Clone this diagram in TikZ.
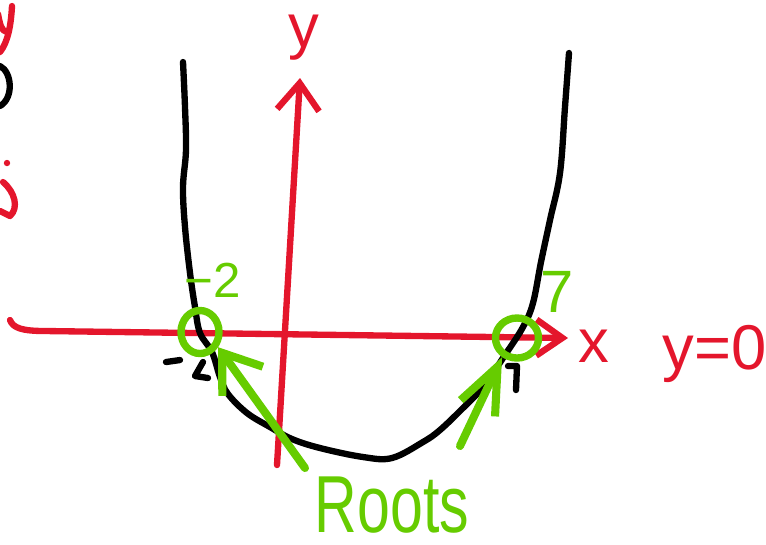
\documentclass[tikz,border=0pt]{standalone}
\usepackage{fontspec}
\setmainfont{Liberation Sans}
\usepackage{tikz}
\usetikzlibrary{arrows.meta,shapes.geometric}
\definecolor{axisred}{RGB}{228,22,44}
\definecolor{rootgreen}{RGB}{102,204,0}
\tikzset{
  curve/.style     = {line width=1.8pt, black, line cap=round, line join=round},
  axis/.style      = {line width=1.8pt, axisred, line cap=round, line join=round},
  axisarrow/.style = {axis, -{Straight Barb[length=2.6mm,width=3.6mm]}},
  rootring/.style  = {ellipse, draw=rootgreen, line width=2.1pt, inner sep=0pt},
  rootarrow/.style = {line width=2.3pt, rootgreen, line cap=round, line join=round},
  axislab/.style   = {text=axisred, inner sep=0pt, font=\fontsize{17.5}{17.5}\selectfont},
  rootlab/.style   = {text=rootgreen, inner sep=0pt},
}

\begin{document}
\begin{tikzpicture}[x=0.01cm, y=-0.01cm]
  \useasboundingbox (0,0) rectangle (766,544);
  \clip (0,0) rectangle (766,544);

  \draw[axis] (12,6) .. controls (11,25) and (8,42) .. (0,52);
  \draw[axis] (-2,14) .. controls (0,24) and (1,31) .. (7,32);
  \draw[curve] (0,66) .. controls (12,72) and (14,98) .. (0,106);
  \fill[axisred] (7,163) circle (3.2);
  \draw[axis] (3,182) .. controls (15,192) and (19,208) .. (10,216) -- (0,211);

  \coordinate (xfrom) at (10,320);
  \coordinate (xto)   at (568,338);
  \coordinate (yfrom) at (277,465);
  \coordinate (yto)   at (300,78);
  \draw[axisarrow] (xfrom) .. controls (13,328) and (22,331) .. (45,331) -- (xto);
  \draw[axisarrow, -{Straight Barb[length=2.7mm,width=4.2mm]}] (yfrom) -- (yto);

  \draw[curve] plot[smooth, tension=0.6] coordinates {
    (183,62) (185,107) (186,150) (183,187) (185,227) (190,273) (195,307)
    (200,333) (212,352) (220,377) (228,394) (247,413) (270,427) (292,439)
    (320,448) (363,457) (392,458) (423,442) (440,430) (463,408) (483,387)
    (505,355) (523,327) (533,303) (541,262) (550,220) (560,173) (565,107)
    (569,53)};
  \draw[curve] (166,362) -- (180,360);
  \draw[curve] (203,362) -- (195,376) -- (208,378);
  \draw[curve] (508,366) -- (517,366) -- (516,390);

  \node[rootring, minimum width=0.38cm, minimum height=0.43cm] (rootL) at (200,332) {};
  \node[rootring, minimum width=0.43cm, minimum height=0.40cm] (rootR) at (517,338) {};

  \coordinate (tailL) at (305,468);
  \coordinate (tailR) at (460,446);
  \draw[rootarrow, -{Straight Barb[length=3.5mm,width=5mm]}] (tailL) -- (rootL.-40);
  \draw[rootarrow, -{Straight Barb[length=4.6mm,width=3.8mm]}] (tailR) -- (rootR.-128);

  \node[axislab] (ylab) at (304,38) {y};
  \node[axislab] (xlab) at (594,346) {x};
  \node[axislab, anchor=west, font=\fontsize{18}{18}\selectfont] (yzero) at (662,354) {y=0};
  \node[rootlab, font=\fontsize{14}{14}\selectfont] (minustwo) at (213,280) {−2};
  \node[rootlab, font=\fontsize{17}{17}\selectfont] (seven) at (557,292) {7};
  \node[rootlab, font=\fontsize{23}{23}\selectfont] (roots) at (392,505) {\scalebox{0.73}[1]{Roots}};
\end{tikzpicture}
\end{document}
